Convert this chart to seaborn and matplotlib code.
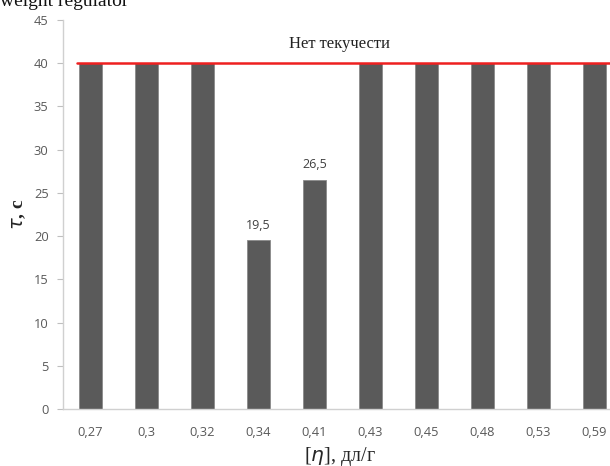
import matplotlib
matplotlib.use("Agg")
import matplotlib.pyplot as plt
import seaborn as sns
import pandas as pd

categories = ["0,27", "0,3", "0,32", "0,34", "0,41", "0,43", "0,45", "0,48", "0,53", "0,59"]
values = [40, 40, 40, 19.5, 26.5, 40, 40, 40, 40, 40]
labelled = {3: "19,5", 4: "26,5"}
limit_value = 40
limit_text = "Нет текучести"
y_ticks = [0, 5, 10, 15, 20, 25, 30, 35, 40, 45]

sns.set_style("white")
plt.rcParams['font.family'] = ['Open Sans', 'DejaVu Sans']

df = pd.DataFrame({"eta": categories, "tau": values})

fig = plt.figure(figsize=(6.10, 4.66), dpi=100)
ax = fig.add_axes([62.5/610, 57/466, 560/610, 389/466])

sns.barplot(data=df, x="eta", y="tau", color="#5a5a5a", saturation=1,
            width=0.4, ax=ax, edgecolor="#8a8a8a", linewidth=0.6)

ax.set_xlim(-0.5, len(categories) - 0.5)
ax.set_ylim(0, 45)
ax.set_yticks(y_ticks)
ax.set_yticklabels([str(t) for t in y_ticks])

# boundary ticks on x
ax.set_xticks([i + 0.5 for i in range(-1, len(categories))], minor=True)
ax.tick_params(axis="x", which="major", length=0, pad=12, labelsize=9.3, labelcolor="#595959")
ax.tick_params(axis="x", which="minor", length=4, width=0.8, color="#bfbfbf", direction="out")
ax.tick_params(axis="y", which="major", length=4, width=0.8, color="#bfbfbf", direction="out",
               labelsize=9.3, labelcolor="#595959", pad=6)
ax.xaxis.set_tick_params(bottom=True)
ax.yaxis.set_tick_params(left=True)

for s in ["top", "right"]:
    ax.spines[s].set_visible(False)
for s in ["left", "bottom"]:
    ax.spines[s].set_color("#d0d0d0")
    ax.spines[s].set_linewidth(1.0)

# limit line
ax.plot([-0.25, len(categories) - 0.5], [limit_value, limit_value], color="#ee2020",
        linewidth=1.8, zorder=5, clip_on=False)
ax.text(4.45, 42.2, limit_text, ha="center", va="center", fontsize=12,
        family=["Liberation Serif"], color="#222222")

for i, txt in labelled.items():
    ax.text(i, values[i] + 1.0, txt, ha="center", va="bottom", fontsize=9, color="#404040")

ax.set_xlabel("[$\\it{η}$], дл/г", fontsize=14.5, family=["Liberation Serif"])
ax.set_ylabel("$\\it{τ}$, с", fontsize=14, family=["Liberation Serif"], fontweight="bold")
ax.xaxis.set_label_coords((340 - 62.5) / 560, -47/389)
ax.yaxis.set_label_coords(-(62.5 - 19) / 560, (409 - 214) / 389)
ax.xaxis.label.set_verticalalignment("center")
ax.yaxis.label.set_verticalalignment("center")

fig.text(0.0, 1 - 6/466, "weight regulator", fontsize=14, family=["Liberation Serif"],
         ha="left", va="baseline", color="#111111")

fig.savefig("out.png", dpi=100)
